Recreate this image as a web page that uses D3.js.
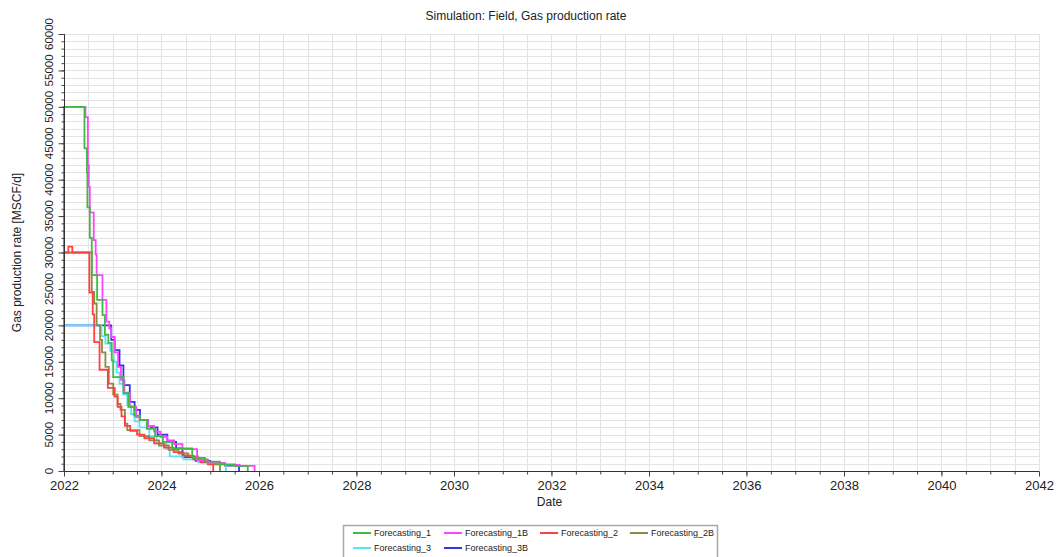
<!DOCTYPE html>
<html>
<head>
<meta charset="utf-8">
<script src="https://cdn.jsdelivr.net/npm/d3@7"></script>
<style>
  body { margin: 0; background: #fff; }
  svg { display: block; }
  text { font-family: "Liberation Sans", Arial, sans-serif; fill: #222; }
</style>
</head>
<body>
<svg id="chart" width="1059" height="557"></svg>
<script>
// Simulated field gas production rate per forecast case: [decimal year, MSCF/d], step-after
const seriesNames = ["Forecasting_1", "Forecasting_1B", "Forecasting_2", "Forecasting_2B", "Forecasting_3", "Forecasting_3B"];
const seriesColors = ["#44b844", "#ff44ff", "#ff4040", "#8c8a48", "#55e6f6", "#3535e8"];

const forecasting1 = [
  [2022.00, 0], [2022.00, 50000], [2022.42, 44300], [2022.47, 41000], [2022.48, 36200],
  [2022.53, 32000], [2022.57, 26900], [2022.68, 23500], [2022.79, 21400], [2022.84, 18700],
  [2022.91, 17600], [2022.98, 15200], [2023.01, 12900], [2023.22, 10700], [2023.32, 8800],
  [2023.44, 7600], [2023.56, 7000], [2023.70, 5800], [2023.87, 4800], [2024.03, 4000],
  [2024.22, 3100], [2024.63, 1800], [2024.89, 1300], [2025.20, 900], [2025.51, 700], [2025.77, 0]
];
const forecasting1B = [
  [2022.00, 0], [2022.00, 50000], [2022.44, 48600], [2022.49, 42000], [2022.51, 39000],
  [2022.53, 35500], [2022.61, 31700], [2022.65, 29700], [2022.67, 26900], [2022.79, 23500],
  [2022.87, 20500], [2022.93, 19600], [2022.97, 18400], [2023.04, 16300], [2023.11, 14300],
  [2023.17, 12500], [2023.24, 10700], [2023.35, 8800], [2023.48, 7400], [2023.55, 7000],
  [2023.72, 6200], [2023.85, 5400], [2023.98, 4700], [2024.12, 4200], [2024.26, 3700],
  [2024.43, 3000], [2024.73, 1500], [2024.95, 1100], [2025.30, 850], [2025.60, 700], [2025.91, 0]
];
const forecasting2 = [
  [2022.00, 0], [2022.00, 30000], [2022.09, 30800], [2022.17, 30000], [2022.52, 24500],
  [2022.59, 21500], [2022.62, 17700], [2022.73, 13900], [2022.90, 11400], [2023.04, 10200],
  [2023.10, 8800], [2023.18, 7500], [2023.25, 6200], [2023.36, 5500], [2023.50, 5000],
  [2023.65, 4500], [2023.85, 3800], [2024.05, 3200], [2024.25, 2600], [2024.45, 2100],
  [2024.65, 1600], [2024.80, 1200], [2024.95, 900], [2025.06, 0]
];
const forecasting2B = [
  [2022.00, 0], [2022.00, 30000], [2022.57, 24600], [2022.62, 23000], [2022.67, 20000],
  [2022.74, 18000], [2022.78, 16300], [2022.85, 14300], [2022.92, 12000], [2023.01, 10500],
  [2023.10, 9200], [2023.16, 8400], [2023.25, 6500], [2023.30, 5600], [2023.55, 4800],
  [2023.75, 4200], [2023.95, 3500], [2024.15, 2900], [2024.35, 2400], [2024.55, 2000],
  [2024.75, 1600], [2024.95, 1200], [2025.10, 900], [2025.20, 0]
];
const forecasting3 = [
  [2022.00, 0], [2022.00, 20000], [2022.77, 18500], [2022.85, 17500], [2022.95, 16500],
  [2023.02, 15000], [2023.08, 13500], [2023.14, 12000], [2023.22, 10500], [2023.30, 9000],
  [2023.38, 7800], [2023.45, 6800], [2023.55, 6000], [2023.75, 4800], [2023.90, 3800],
  [2024.10, 3000], [2024.17, 2000], [2024.45, 1600], [2024.75, 1200], [2025.05, 900], [2025.32, 0]
];
const forecasting3B = [
  [2022.00, 0], [2022.00, 20000], [2022.97, 18000], [2023.04, 16600], [2023.14, 14500],
  [2023.22, 11800], [2023.35, 9500], [2023.45, 8400], [2023.56, 7000], [2023.72, 6000],
  [2023.92, 5000], [2024.12, 4000], [2024.30, 3100], [2024.43, 1900], [2024.70, 1400],
  [2025.00, 1000], [2025.30, 750], [2025.59, 0]
];
const seriesValues = [forecasting1, forecasting1B, forecasting2, forecasting2B, forecasting3, forecasting3B];

const xTickYears = [2022, 2024, 2026, 2028, 2030, 2032, 2034, 2036, 2038, 2040, 2042];
const yTickValues = [0, 5000, 10000, 15000, 20000, 25000, 30000, 35000, 40000, 45000, 50000, 55000, 60000];

const chartTitle = "Simulation: Field, Gas production rate";
const xTitle = "Date";
const yTitle = "Gas production rate [MSCF/d]";

// ---- layout ----
const plotLeft = 64, plotRight = 1039, plotTop = 34, plotBottom = 471;
const svg = d3.select("#chart");

function toDate(yv) {
  const yr = Math.floor(yv);
  const a = Date.UTC(yr, 0, 1), b = Date.UTC(yr + 1, 0, 1);
  return new Date(a + (yv - yr) * (b - a));
}

const x = d3.scaleUtc()
  .domain([toDate(xTickYears[0]), toDate(xTickYears[xTickYears.length - 1])])
  .range([plotLeft, plotRight]);
const y = d3.scaleLinear()
  .domain([yTickValues[0], yTickValues[yTickValues.length - 1]])
  .range([plotBottom, plotTop]);

// half-year and 1000-unit grid
const halfYears = d3.range(xTickYears[0], xTickYears[xTickYears.length - 1] + 0.001, 0.5);
const minorY = d3.range(0, 60001, 1000);

svg.append("g").selectAll("line").data(halfYears).join("line")
  .attr("x1", d => Math.round(x(toDate(d))) + 0.5).attr("x2", d => Math.round(x(toDate(d))) + 0.5)
  .attr("y1", plotTop).attr("y2", plotBottom)
  .attr("stroke", "#e3e3e3").attr("stroke-width", 1);
svg.append("g").selectAll("line").data(minorY).join("line")
  .attr("y1", d => Math.round(y(d)) + 0.5).attr("y2", d => Math.round(y(d)) + 0.5)
  .attr("x1", plotLeft).attr("x2", plotRight)
  .attr("stroke", "#e3e3e3").attr("stroke-width", 1);

// series, last legend entry painted first
const line = d3.line()
  .x(d => x(toDate(d[0])))
  .y(d => y(d[1]))
  .curve(d3.curveStepAfter);

d3.range(seriesValues.length).reverse().forEach(i => {
  svg.append("path")
    .attr("d", line(seriesValues[i]))
    .attr("fill", "none")
    .attr("stroke", seriesColors[i])
    .attr("stroke-width", 1.8)
    .attr("stroke-linejoin", "miter");
});

// y axis: minor ticks every 1000, major every 5000
const yMinor = d3.axisLeft(y).tickValues(minorY).tickSize(3).tickFormat("");
const gYm = svg.append("g").attr("transform", `translate(${plotLeft + 0.5},0)`).call(yMinor);
gYm.select(".domain").remove();
gYm.selectAll("line").attr("stroke", "#444");

const yAxis = d3.axisLeft(y).tickValues(yTickValues).tickSize(6).tickFormat("");
const gY = svg.append("g").attr("transform", `translate(${plotLeft + 0.5},0)`).call(yAxis);
gY.select(".domain").attr("stroke", "#333").attr("d", `M0,${plotTop}V${plotBottom}`);
gY.selectAll("line").attr("stroke", "#444");

svg.append("g").selectAll("text").data(yTickValues).join("text")
  .attr("transform", d => `translate(53,${y(d)}) rotate(-90)`)
  .attr("text-anchor", "middle")
  .style("font-size", "11.5px")
  .text(d => d);

// x axis: minor ticks every half year, labels every two years
const xMinor = d3.axisBottom(x).tickValues(halfYears.map(toDate)).tickSize(3).tickFormat("");
const gXm = svg.append("g").attr("transform", `translate(0,${plotBottom + 0.5})`).call(xMinor);
gXm.select(".domain").remove();
gXm.selectAll("line").attr("stroke", "#444");

const xAxis = d3.axisBottom(x).tickValues(xTickYears.map(toDate)).tickSize(5)
  .tickFormat(d3.utcFormat("%Y"));
const gX = svg.append("g").attr("transform", `translate(0,${plotBottom + 0.5})`).call(xAxis);
gX.select(".domain").attr("stroke", "#333").attr("d", `M${plotLeft},0H${plotRight}`);
gX.selectAll("line").attr("stroke", "#444");
gX.selectAll("text").attr("y", 9).attr("dy", "0.71em")
  .style("font-size", "13px").style("font-family", "'Liberation Sans', Arial, sans-serif").attr("fill", "#222");

// titles
svg.append("text").attr("x", 526).attr("y", 20).attr("text-anchor", "middle")
  .style("font-size", "12px").attr("fill", "#333").text(chartTitle);
svg.append("text").attr("x", (plotLeft + plotRight) / 2 - 2).attr("y", 506).attr("text-anchor", "middle")
  .style("font-size", "12px").text(xTitle);
svg.append("text").attr("transform", `translate(21,${(plotTop + plotBottom) / 2}) rotate(-90)`)
  .attr("text-anchor", "middle").style("font-size", "12px").text(yTitle);

// legend
const legend = svg.append("g");
legend.append("rect").attr("x", 343.5).attr("y", 525.5).attr("width", 374).attr("height", 40)
  .attr("fill", "#fff").attr("stroke", "#a8a8a8").attr("stroke-width", 1.5);
const colX = [353, 444, 540, 630];
seriesNames.forEach((name, i) => {
  const cx = colX[i % 4], cy = i < 4 ? 533 : 548;
  legend.append("line").attr("x1", cx).attr("x2", cx + 18).attr("y1", cy).attr("y2", cy)
    .attr("stroke", seriesColors[i]).attr("stroke-width", 2);
  legend.append("text").attr("x", cx + 21).attr("y", cy + 3.2)
    .style("font-size", "9px").attr("fill", "#333").text(name);
});
</script>
</body>
</html>
